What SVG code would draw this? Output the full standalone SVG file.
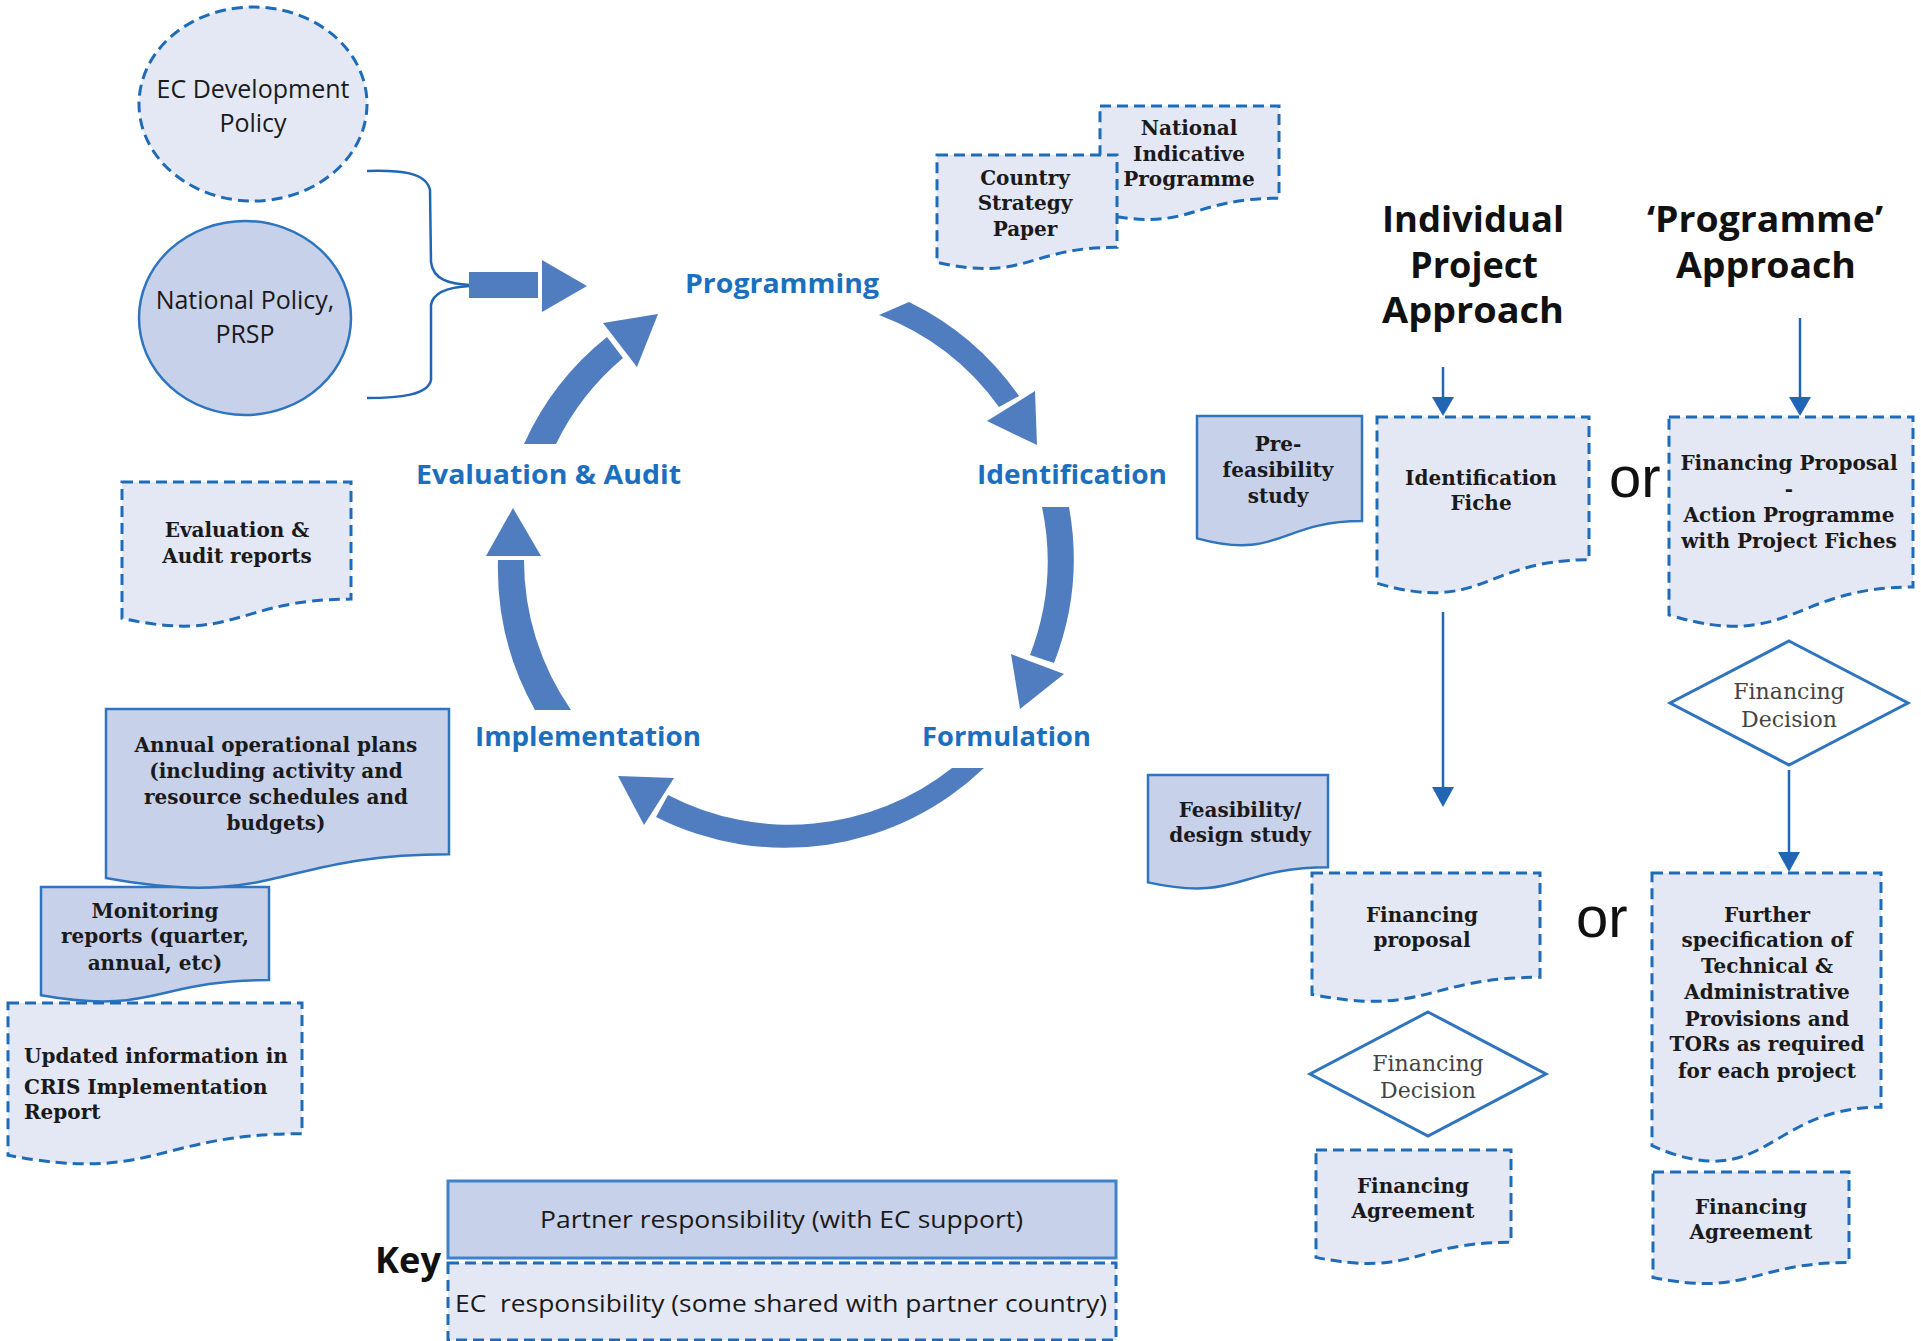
<svg xmlns="http://www.w3.org/2000/svg" width="1921" height="1341" viewBox="0 0 1921 1341">
<defs>
<style>
.ec{fill:#E4E8F5;stroke:#1E6CB8;stroke-width:3;stroke-dasharray:11 6}
.pt{fill:#C8D1EA;stroke:#2E74BE;stroke-width:2.5}
.dia{fill:#FFFFFF;stroke:#2E74BE;stroke-width:3}
.ring{fill:#4F7DBF}
.ln{fill:none;stroke:#2166B5;stroke-width:2.5}
.hd{fill:#2166B5}
.doc{font-family:"DejaVu Serif","Liberation Serif",serif;font-weight:bold;font-size:20px;fill:#1a1a1a;text-anchor:middle}
.docl{font-family:"DejaVu Serif","Liberation Serif",serif;font-weight:bold;font-size:20px;fill:#1a1a1a}
.dec{font-family:"DejaVu Serif","Liberation Serif",serif;font-size:22px;fill:#444444;text-anchor:middle}
.cyc{font-family:"Open Sans","Noto Sans",sans-serif;font-weight:bold;font-size:27px;fill:#1C6FBF}
.hdg{font-family:"Open Sans","Noto Sans",sans-serif;font-weight:bold;font-size:36px;fill:#111111;text-anchor:middle}
.circ{font-family:"Open Sans","Noto Sans",sans-serif;font-size:25px;fill:#1a1a1a;text-anchor:middle}
.or{font-family:"Liberation Sans",Arial,sans-serif;font-size:58px;fill:#111111}
.key{font-family:"Open Sans","Noto Sans",sans-serif;font-size:24px;fill:#1a1a1a}
</style>
</defs>
<rect x="0" y="0" width="1921" height="1341" fill="#FFFFFF"/>

<!-- connectors -->
<g id="connectors">
  <path class="ln" d="M367,171 C400,170 426,172 430,190 L431,262 C433,280 450,284 470,285"/>
  <path class="ln" d="M367,398 C400,398 428,395 431,380 L431,305 C433,292 450,287 470,286"/>
  <rect class="ring" x="469" y="272" width="69" height="26"/>
  <polygon class="ring" points="542,260 542,312 587,286"/>

  <path class="ring" d="M909,302 A287,287 0 0 1 1019,396 L999,407 A262,262 0 0 0 879,315 Z"/>
  <polygon class="ring" points="987,421 1035,391 1037,445"/>
  <path class="ring" d="M1069,507 A287,287 0 0 1 1054,663 L1030,655 A262,262 0 0 0 1042,507 Z"/>
  <polygon class="ring" points="1011,654 1064,674 1020,709"/>
  <path class="ring" d="M984,768 A287,287 0 0 1 656,817 L668,795 A262,262 0 0 0 952,768 Z"/>
  <polygon class="ring" points="674,778 644,825 618,776"/>
  <path class="ring" d="M571,710 A262,262 0 0 1 524,560 L498,560 A288,288 0 0 0 535,710 Z"/>
  <polygon class="ring" points="486,556 541,556 513,508"/>
  <path class="ring" d="M524,444 A287,287 0 0 1 607,337 L623,358 A262,262 0 0 0 556,444 Z"/>
  <polygon class="ring" points="603,323 637,367 658,314"/>

  <line class="ln" x1="1443" y1="367" x2="1443" y2="399"/>
  <polygon class="hd" points="1432,397 1454,397 1443,416"/>
  <line class="ln" x1="1800" y1="318" x2="1800" y2="399"/>
  <polygon class="hd" points="1789,397 1811,397 1800,416"/>
  <line class="ln" x1="1443" y1="612" x2="1443" y2="789"/>
  <polygon class="hd" points="1432,787 1454,787 1443,807"/>
  <line class="ln" x1="1789" y1="770" x2="1789" y2="854"/>
  <polygon class="hd" points="1778,852 1800,852 1789,872"/>
</g>

<!-- policy circles -->
<g id="ec-policy">
  <ellipse class="ec" cx="253" cy="104" rx="114" ry="97"/>
  <text class="circ" x="253" y="98">EC Development</text>
  <text class="circ" x="253" y="132">Policy</text>
</g>
<g id="national-policy">
  <ellipse class="pt" cx="245" cy="318" rx="106" ry="97"/>
  <text class="circ" x="245" y="309">National Policy,</text>
  <text class="circ" x="245" y="343">PRSP</text>
</g>

<!-- cycle labels -->
<g id="stage-programming"><text class="cyc" x="685" y="293" textLength="194" lengthAdjust="spacingAndGlyphs">Programming</text></g>
<g id="stage-identification"><text class="cyc" x="977" y="484" textLength="190" lengthAdjust="spacingAndGlyphs">Identification</text></g>
<g id="stage-formulation"><text class="cyc" x="922" y="746" textLength="169" lengthAdjust="spacingAndGlyphs">Formulation</text></g>
<g id="stage-implementation"><text class="cyc" x="475" y="746" textLength="226" lengthAdjust="spacingAndGlyphs">Implementation</text></g>
<g id="stage-evaluation"><text class="cyc" x="416" y="484" textLength="265" lengthAdjust="spacingAndGlyphs">Evaluation &amp; Audit</text></g>

<!-- programming documents -->
<g id="nip">
  <path class="ec" d="M1100,106 H1279 V198.2 C1189.5,198.2 1189.5,233.3 1100,213.4 Z"/>
  <text class="doc" x="1189" y="135">National</text>
  <text class="doc" x="1189" y="161">Indicative</text>
  <text class="doc" x="1189" y="186">Programme</text>
</g>
<g id="csp">
  <path class="ec" d="M937,155 H1117 V247.2 C1027,247.2 1027,282.3 937,262.4 Z"/>
  <text class="doc" x="1025" y="185">Country</text>
  <text class="doc" x="1025" y="210">Strategy</text>
  <text class="doc" x="1025" y="236">Paper</text>
</g>

<g id="eval-reports">
  <path class="ec" d="M122,482 H351 V599.1 C236.5,599.1 236.5,643.6 122,618.4 Z"/>
  <text class="doc" x="237" y="537">Evaluation &amp;</text>
  <text class="doc" x="237" y="563">Audit reports</text>
</g>

<g id="monitoring">
  <path class="pt" d="M41,887 H269 V980 C155,980 155,1015.4 41,995.3 Z"/>
  <text class="doc" x="155" y="918">Monitoring</text>
  <text class="doc" x="155" y="943">reports (quarter,</text>
  <text class="doc" x="155" y="970">annual, etc)</text>
</g>
<g id="annual-plans">
  <path class="pt" d="M106,709 H449 V854.2 C277.5,854.2 277.5,909.4 106,878.1 Z"/>
  <text class="doc" x="276" y="752">Annual operational plans</text>
  <text class="doc" x="276" y="778">(including activity and</text>
  <text class="doc" x="276" y="804">resource schedules and</text>
  <text class="doc" x="276" y="830">budgets)</text>
</g>
<g id="cris-report">
  <path class="ec" d="M8,1003 H302 V1133.7 C155,1133.7 155,1183.4 8,1155.2 Z"/>
  <text class="docl" x="24" y="1063">Updated information in</text>
  <text class="docl" x="24" y="1094">CRIS Implementation</text>
  <text class="docl" x="24" y="1119">Report</text>
</g>

<!-- approach headings -->
<g id="heading-individual">
  <text class="hdg" x="1473" y="232" textLength="182" lengthAdjust="spacingAndGlyphs">Individual</text>
  <text class="hdg" x="1474" y="278" textLength="128" lengthAdjust="spacingAndGlyphs">Project</text>
  <text class="hdg" x="1473" y="323" textLength="182" lengthAdjust="spacingAndGlyphs">Approach</text>
</g>
<g id="heading-programme">
  <text class="hdg" x="1765" y="232" textLength="236" lengthAdjust="spacingAndGlyphs">‘Programme’</text>
  <text class="hdg" x="1766" y="278" textLength="180" lengthAdjust="spacingAndGlyphs">Approach</text>
</g>

<g id="prefeasibility">
  <path class="pt" d="M1197,416 H1362 V521.1 C1279.5,521.1 1279.5,561 1197,538.4 Z"/>
  <text class="doc" x="1278" y="451">Pre-</text>
  <text class="doc" x="1278" y="477">feasibility</text>
  <text class="doc" x="1278" y="503">study</text>
</g>
<g id="identification-fiche">
  <path class="ec" d="M1377,417 H1589 V559.8 C1483,559.8 1483,614 1377,583.3 Z"/>
  <text class="doc" x="1481" y="485">Identification</text>
  <text class="doc" x="1481" y="510">Fiche</text>
</g>
<g id="or-1"><text class="or" x="1609" y="497">or</text></g>
<g id="financing-proposal-programme">
  <path class="ec" d="M1669,417 H1913 V587 C1791,587 1791,651.7 1669,615 Z"/>
  <text class="doc" x="1789" y="470">Financing Proposal</text>
  <text class="doc" x="1789" y="496">-</text>
  <text class="doc" x="1789" y="522">Action Programme</text>
  <text class="doc" x="1789" y="548">with Project Fiches</text>
</g>
<g id="decision-programme">
  <polygon class="dia" points="1789,641 1908,703 1789,765 1670,703"/>
  <text class="dec" x="1789" y="699">Financing</text>
  <text class="dec" x="1789" y="727">Decision</text>
</g>

<g id="feasibility-design">
  <path class="pt" d="M1148,775 H1328 V867.2 C1238,867.2 1238,902.3 1148,882.4 Z"/>
  <text class="doc" x="1240" y="817">Feasibility/</text>
  <text class="doc" x="1240" y="842">design study</text>
</g>
<g id="financing-proposal">
  <path class="ec" d="M1312,873 H1540 V977.3 C1426,977.3 1426,1016.9 1312,994.4 Z"/>
  <text class="doc" x="1422" y="922">Financing</text>
  <text class="doc" x="1422" y="947">proposal</text>
</g>
<g id="or-2"><text class="or" x="1576" y="937">or</text></g>
<g id="decision-project">
  <polygon class="dia" points="1428,1012 1546,1074 1428,1136 1310,1074"/>
  <text class="dec" x="1428" y="1071">Financing</text>
  <text class="dec" x="1428" y="1098">Decision</text>
</g>
<g id="agreement-project">
  <path class="ec" d="M1316,1150 H1511 V1242.2 C1413.5,1242.2 1413.5,1277.3 1316,1257.4 Z"/>
  <text class="doc" x="1413" y="1193">Financing</text>
  <text class="doc" x="1413" y="1218">Agreement</text>
</g>
<g id="further-specification">
  <path class="ec" d="M1652,873 H1881 V1107.2 C1766.5,1107.2 1766.5,1196.2 1652,1145.7 Z"/>
  <text class="doc" x="1767" y="922">Further</text>
  <text class="doc" x="1767" y="947">specification of</text>
  <text class="doc" x="1767" y="973">Technical &amp;</text>
  <text class="doc" x="1767" y="999">Administrative</text>
  <text class="doc" x="1767" y="1026">Provisions and</text>
  <text class="doc" x="1767" y="1051">TORs as required</text>
  <text class="doc" x="1767" y="1078">for each project</text>
</g>
<g id="agreement-programme">
  <path class="ec" d="M1653,1172 H1849 V1262.6 C1751,1262.6 1751,1297.1 1653,1277.5 Z"/>
  <text class="doc" x="1751" y="1214">Financing</text>
  <text class="doc" x="1751" y="1239">Agreement</text>
</g>

<!-- key -->
<g id="key">
  <text class="hdg" x="408" y="1273" textLength="66" lengthAdjust="spacingAndGlyphs">Key</text>
  <rect class="pt" x="448" y="1181" width="668" height="77" style="stroke:#3F82C9;stroke-width:3"/>
  <text class="key" x="540" y="1228" textLength="483" lengthAdjust="spacingAndGlyphs">Partner responsibility (with EC support)</text>
  <rect class="ec" x="448" y="1263" width="668" height="77"/>
  <text class="key" x="455" y="1312" textLength="652" lengthAdjust="spacingAndGlyphs" xml:space="preserve">EC  responsibility (some shared with partner country)</text>
</g>
</svg>
